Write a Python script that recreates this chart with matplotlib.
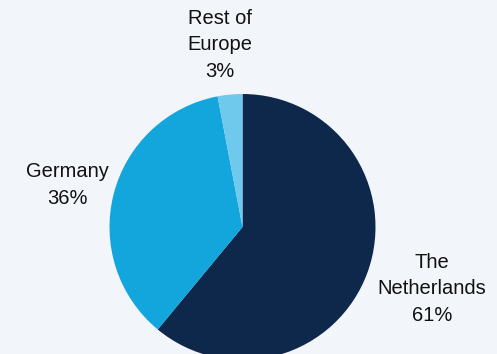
import matplotlib.pyplot as plt

labels = ["The\nNetherlands", "Germany", "Rest of\nEurope"]
shares = [61, 36, 3]
colors = ["#0e284c", "#13a6dd", "#6fc9ed"]

bg = "#f2f6fa"
W, H = 497, 354

fig = plt.figure(figsize=(W / 100, H / 100), dpi=100, facecolor=bg)
ax = fig.add_axes([0, 0, 1, 1])
ax.set_facecolor(bg)

# pie drawn in pixel-like coordinates, clipped at the bottom like the original
ax.pie(shares, colors=colors, startangle=90, counterclock=False,
       center=(242.5, H - 227), radius=133, frame=True,
       wedgeprops=dict(linewidth=0))
ax.set_xlim(0, W)
ax.set_ylim(0, H)
ax.set_aspect("equal")
ax.axis("off")

label_pos = [(432, H - 289), (67, H - 185), (220, H - 45)]
for lab, s, (x, y) in zip(labels, shares, label_pos):
    ax.text(x, y, f"{lab}\n{s}%", ha="center", va="center",
            fontsize=14.5, family="Liberation Sans", color="#111111",
            linespacing=1.5)

fig.savefig("out.png", dpi=100, facecolor=bg)
